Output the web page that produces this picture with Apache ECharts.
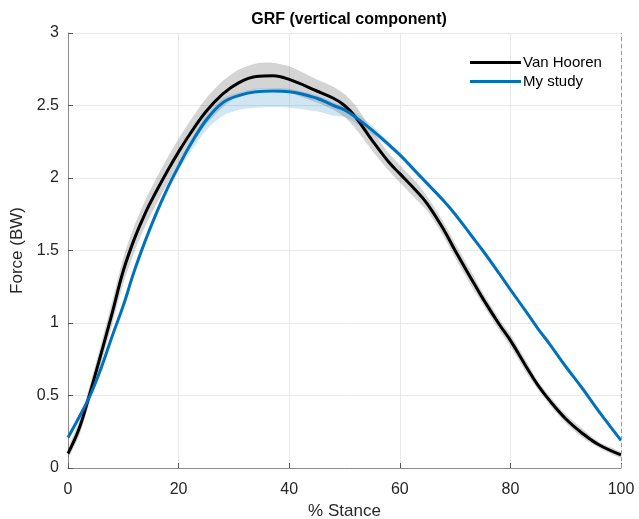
<!DOCTYPE html>
<html>
<head>
<meta charset="utf-8">
<script src="https://cdn.jsdelivr.net/npm/echarts@6/dist/echarts.min.js"></script>
<style>
html,body{margin:0;padding:0;background:#fff;}
#chart{width:639px;height:519px;}
</style>
</head>
<body>
<div id="chart"></div>
<script>
// % stance sample positions (shared by both series)
var stance = [0,2,4,6,8,10,12,14,16,18,20,22,25,28,31,34,37,40,45,48,50,52,55,58,60,63,65,68,70,73,75,78,80,83,85,87,90,93,96,100];
// Van Hooren mean vertical GRF (BW)
var vanHooren = [0.10,0.27,0.52,0.79,1.07,1.36,1.58,1.76,1.91,2.05,2.18,2.30,2.46,2.58,2.66,2.70,2.705,2.68,2.60,2.55,2.50,2.42,2.26,2.11,2.03,1.91,1.82,1.64,1.50,1.30,1.17,0.99,0.88,0.69,0.57,0.47,0.34,0.24,0.16,0.09];
// Van Hooren spread (+/-)
var vanHoorenSpread = [0.03,0.05,0.06,0.07,0.08,0.09,0.09,0.09,0.09,0.09,0.09,0.09,0.09,0.09,0.09,0.09,0.09,0.09,0.08,0.08,0.08,0.08,0.07,0.06,0.06,0.06,0.05,0.05,0.05,0.05,0.04,0.04,0.04,0.04,0.03,0.03,0.03,0.03,0.02,0.02];
// My study mean vertical GRF (BW)
var myStudy = [0.21,0.35,0.50,0.69,0.91,1.12,1.36,1.57,1.76,1.93,2.08,2.22,2.40,2.52,2.57,2.595,2.60,2.595,2.55,2.50,2.47,2.42,2.33,2.23,2.16,2.04,1.96,1.84,1.75,1.60,1.50,1.34,1.23,1.07,0.96,0.86,0.70,0.55,0.39,0.19];
// My study band: distance above / below the mean
var myStudyUp = [0.01,0.01,0.01,0.01,0.01,0.01,0.02,0.02,0.02,0.02,0.02,0.03,0.03,0.03,0.02,0.02,0.02,0.02,0.02,0.02,0.02,0.03,0.03,0.02,0.02,0.02,0.02,0.01,0.01,0.01,0.01,0.01,0.01,0.01,0.01,0.01,0.01,0.01,0.01,0.01];
var myStudyDown = [0.01,0.01,0.01,0.01,0.01,0.01,0.02,0.02,0.03,0.03,0.03,0.05,0.07,0.09,0.10,0.11,0.11,0.11,0.09,0.07,0.05,0.04,0.03,0.02,0.02,0.02,0.02,0.01,0.01,0.01,0.01,0.01,0.01,0.01,0.01,0.01,0.01,0.01,0.01,0.01];
var xTicks = [0,20,40,60,80,100];
var yTicks = [0,0.5,1,1.5,2,2.5,3];

function pairs(vals){ return stance.map(function(x,i){ return [x, vals[i]]; }); }
var vhUpper = vanHooren.map(function(v,i){ return v + vanHoorenSpread[i]; });
var vhLower = vanHooren.map(function(v,i){ return v - vanHoorenSpread[i]; });
var myUpper = myStudy.map(function(v,i){ return v + myStudyUp[i]; });
var myLower = myStudy.map(function(v,i){ return v - myStudyDown[i]; });

function bandSeries(upper, lower, fill, z){
  return {
    type:'custom', silent:true, z:z, clip:true,
    data: stance.map(function(x,i){ return [x, upper[i], lower[i]]; }),
    encode:{x:0, y:[1,2]},
    renderItem:function(params, api){
      if (params.dataIndex !== 0) return null;
      var top = [], bottom = [];
      for (var i = 0; i < stance.length; i++) {
        top.push(api.coord([stance[i], upper[i]]));
        bottom.push(api.coord([stance[i], lower[i]]));
      }
      return {type:'polygon', shape:{points:top.concat(bottom.slice().reverse()), smooth:0.25}, style:{fill:fill, stroke:null}};
    }
  };
}

var font = 'Liberation Sans, Arial, Helvetica, sans-serif';
var chart = echarts.init(document.getElementById('chart'), null, {renderer:'canvas'});
chart.setOption({
  animation:false,
  backgroundColor:'#ffffff',
  title:{
    text:'GRF (vertical component)',
    left:344, top:7, textAlign:'center',
    textStyle:{fontFamily:font, fontSize:16, fontWeight:'bold', color:'#000'}
  },
  legend:{
    data:['Van Hooren','My study'],
    orient:'vertical',
    left:465, top:50,
    icon:'rect', itemWidth:51, itemHeight:3, itemGap:4,
    textStyle:{fontFamily:font, fontSize:15, color:'#000', padding:[0,0,0,-3]}
  },
  grid:{left:68, right:18, top:33, bottom:51, containLabel:false, outerBoundsMode:'none'},
  xAxis:{
    type:'value', min:0, max:100, interval:20,
    name:'% Stance', nameLocation:'middle', nameGap:35,
    nameTextStyle:{fontFamily:font, fontSize:17, color:'#262626'},
    axisLine:{onZero:false, lineStyle:{color:'#8c8c8c', width:1}},
    axisTick:{inside:true, length:5, lineStyle:{color:'#555'}},
    axisLabel:{fontFamily:font, fontSize:16, color:'#262626', margin:14,
      formatter:function(v){ return xTicks.indexOf(v)>=0 ? String(v) : ''; }},
    splitLine:{show:true, lineStyle:{color:'#e8e8e8', width:1}}
  },
  yAxis:{
    type:'value', min:0, max:3, interval:0.5,
    name:'Force (BW)', nameLocation:'middle', nameGap:34,
    nameTextStyle:{fontFamily:font, fontSize:17, color:'#262626'},
    axisLine:{show:true, lineStyle:{color:'#8c8c8c', width:1}},
    axisTick:{show:true, inside:true, length:5, lineStyle:{color:'#555'}},
    axisLabel:{fontFamily:font, fontSize:16, color:'#262626', margin:9,
      formatter:function(v){ return yTicks.indexOf(v)>=0 ? String(v) : ''; }},
    splitLine:{show:true, lineStyle:{color:'#e8e8e8', width:1}}
  },
  series:[
    bandSeries(vhUpper, vhLower, 'rgba(0,0,0,0.17)', 1),
    bandSeries(myUpper, myLower, 'rgba(0,114,189,0.18)', 2),
    {name:'Van Hooren', type:'line', data:pairs(vanHooren), smooth:0.4, symbol:'none',
      color:'#000000', lineStyle:{width:3, color:'#000000'}, z:3,
      markLine:{silent:true, symbol:'none', label:{show:false},
        lineStyle:{type:[4,3], color:'#9a9a9a', width:1},
        data:[{xAxis:100}]}},
    {name:'My study', type:'line', data:pairs(myStudy), smooth:0.4, symbol:'none',
      color:'#0072BD', lineStyle:{width:3, color:'#0072BD'}, z:4}
  ]
});
</script>
</body>
</html>
